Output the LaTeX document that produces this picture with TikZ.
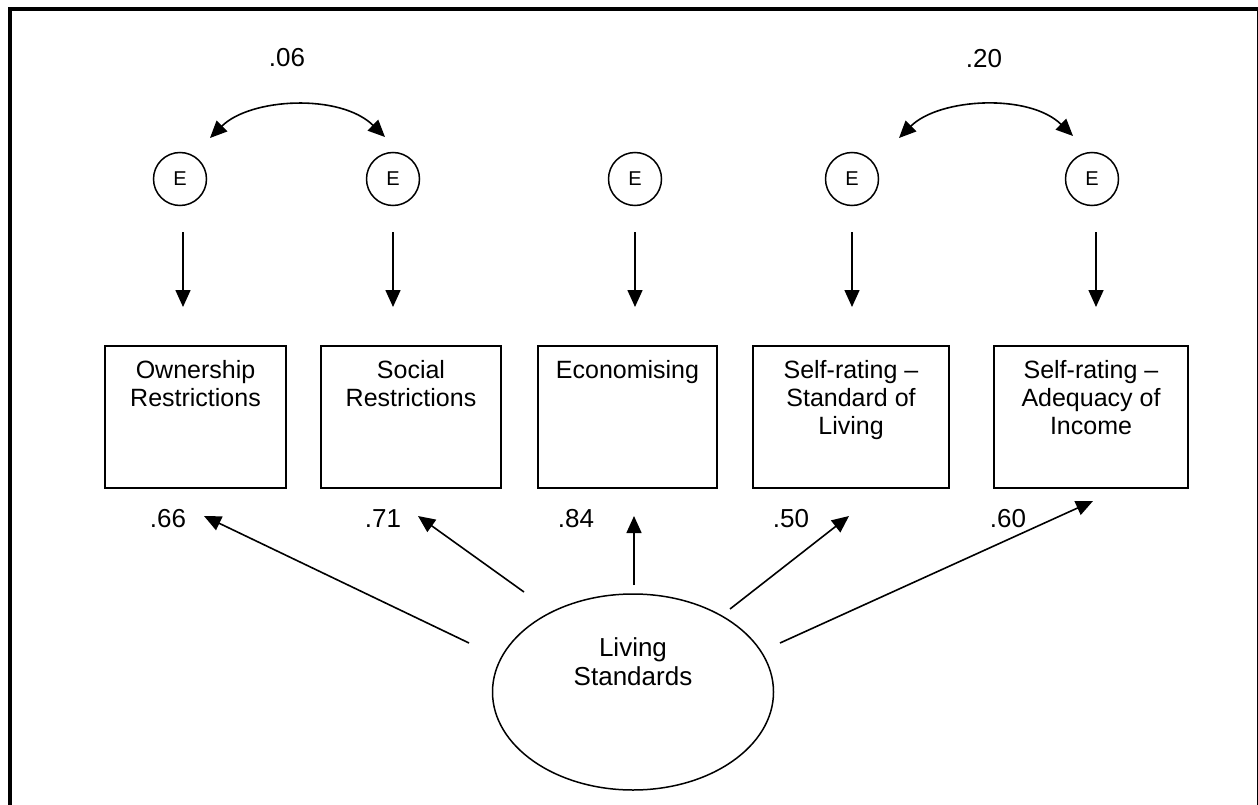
\documentclass[tikz,border=0pt]{standalone}
\usepackage{fontspec}
\setmainfont{Liberation Sans}
\usetikzlibrary{arrows.meta,shapes.geometric}
\begin{document}
\begin{tikzpicture}[x=1pt,y=-1pt,
  txt/.style={font=\fontsize{25}{28}\selectfont, inner sep=0pt, align=center},
  coef/.style={font=\fontsize{26}{28}\selectfont, inner sep=0pt},
  errc/.style={draw, circle, line width=1.5pt, minimum size=53pt, inner sep=0pt, font=\fontsize{20}{24}\selectfont},
  obs/.style={draw, line width=1.5pt, minimum height=142pt, inner sep=0pt, anchor=north},
  lat/.style={draw, ellipse, line width=1.5pt, minimum width=281pt, minimum height=196pt, inner sep=0pt},
  arr/.style={line width=1.6pt, -{Triangle[length=17pt,width=15pt]}},
  biarr/.style={line width=1.6pt, {Triangle[length=17pt,width=15pt]}-{Triangle[length=17pt,width=15pt]}}
]
\useasboundingbox (0,0) rectangle (1258,805);
\clip (0,0) rectangle (1258,805);
\fill[white] (0,0) rectangle (1258,805);
\draw[line width=4pt] (10,9) rectangle (1259,815);

% error terms
\node[errc] (e1) at (180,179) {E};
\node[errc] (e2) at (393,179) {E};
\node[errc] (e3) at (635,179) {E};
\node[errc] (e4) at (852,179) {E};
\node[errc] (e5) at (1092,179) {E};

% observed variables
\node[obs, minimum width=181pt] (b1) at (195.5,345) {};
\node[obs, minimum width=180pt] (b2) at (411,345) {};
\node[obs, minimum width=179pt] (b3) at (627.5,345) {};
\node[obs, minimum width=196pt] (b4) at (851,345) {};
\node[obs, minimum width=194pt] (b5) at (1091,345) {};

\node[txt, anchor=north] (t1) at (195.5,360) {Ownership\\Restrictions};
\node[txt, anchor=north] (t2) at (411,360) {Social\\Restrictions};
\node[txt, anchor=north] (t3) at (627.5,360) {Economising};
\node[txt, anchor=north] (t4) at (851,360) {Self-rating –\\Standard of\\Living};
\node[txt, anchor=north] (t5) at (1091,360) {Self-rating –\\Adequacy of\\Income};

% latent variable
\node[lat] (ls) at (633,692) {};
\node[txt, font=\fontsize{26}{29}\selectfont, anchor=north] (lst) at (633,637) {Living\\Standards};

% error arrows
\foreach \i/\x in {1/183,2/393,3/635,4/852,5/1096}{
  \coordinate (ea\i) at (\x,232);
  \coordinate (eb\i) at (\x,307);
  \draw[arr] (ea\i) -- (eb\i);
}

% covariances
\coordinate (c1a) at (210,138);
\coordinate (c1b) at (385,137);
\coordinate (c2a) at (899,138);
\coordinate (c2b) at (1073,136);
\draw[biarr] (c1a) .. controls (250,98) and (340,93) .. (c1b);
\draw[biarr] (c2a) .. controls (939,98) and (1029,93) .. (c2b);
\node[coef] (r1) at (287,58) {.06};
\node[coef] (r2) at (984,59) {.20};

% loadings
\coordinate (s1) at (469,643); \coordinate (p1) at (204,516);
\coordinate (s2) at (524,592); \coordinate (p2) at (418,516);
\coordinate (s3) at (634,585); \coordinate (p3) at (634,516);
\coordinate (s4) at (730,609); \coordinate (p4) at (849,516);
\coordinate (s5) at (780,643); \coordinate (p5) at (1093,501);
\foreach \i in {1,...,5}{\draw[arr] (s\i) -- (p\i);}

\node[coef] (l1) at (168,519) {.66};
\node[coef] (l2) at (383,519) {.71};
\node[coef] (l3) at (576,519) {.84};
\node[coef] (l4) at (791,519) {.50};
\node[coef] (l5) at (1008,519) {.60};
\end{tikzpicture}
\end{document}
